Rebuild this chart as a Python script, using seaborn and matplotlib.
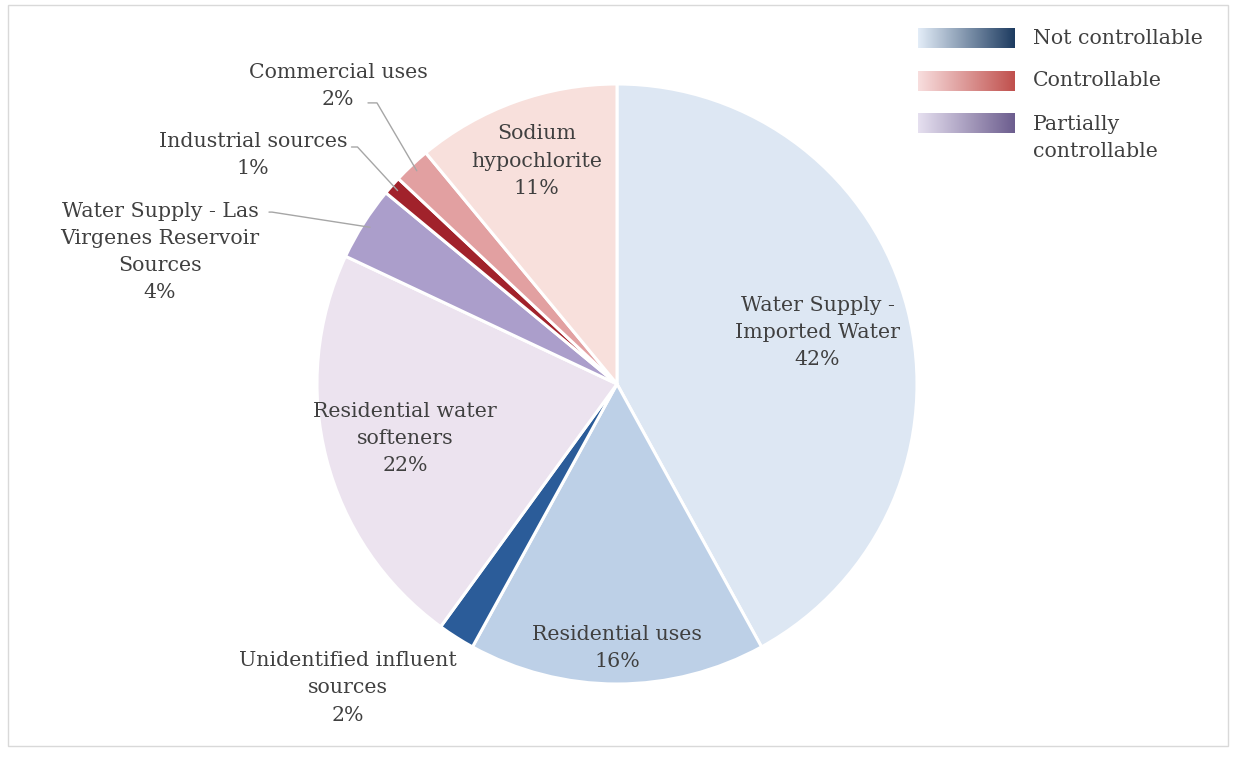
import numpy as np
import matplotlib
matplotlib.use("Agg")
import matplotlib.pyplot as plt
import seaborn as sns
from matplotlib.colors import LinearSegmentedColormap
from matplotlib.patches import Rectangle

# ================= data =================
labels = [
    "Water Supply -\nImported Water",
    "Residential uses",
    "Unidentified influent\nsources",
    "Residential water\nsofteners",
    "Water Supply - Las\nVirgenes Reservoir\nSources",
    "Industrial sources",
    "Commercial uses",
    "Sodium\nhypochlorite",
]
shares = [42, 16, 2, 22, 4, 1, 2, 11]
slice_colors = ["#dde7f3", "#bdd0e7", "#2b5c99", "#ece3ef",
                "#ab9ecb", "#a1222b", "#e2a0a1", "#f8e0dc"]

legend_names = ["Not controllable", "Controllable", "Partially\ncontrollable"]
legend_grad = [("#e3edf8", "#1d3b60"), ("#f8dede", "#c0504d"), ("#e6e0f0", "#6c5d8e")]

# label layout (pie radius = 1); None -> inside at given radius
inside_r = [0.69, 0.88, None, 0.73, None, None, None, 0.79]
outside_pos = {2: (-0.897, -1.013), 4: (-1.523, 0.44),
               5: (-1.213, 0.763), 6: (-0.93, 0.993)}
leader_start = {4: [(-1.15, 0.573), (-1.16, 0.573)],
                5: [(-0.865, 0.79), (-0.885, 0.79)],
                6: [(-0.80, 0.937), (-0.83, 0.937)]}
# =========================================

sns.set_theme(style="white")
plt.rcParams['font.family'] = ['DejaVu Serif']
TXT = "#404040"
FS = 14.8
LS = 1.55

fig = plt.figure(figsize=(12.33, 7.62), dpi=100)
ax = fig.add_axes([0, 0, 1, 1])

wedges, _ = ax.pie(shares, colors=slice_colors, startangle=90, counterclock=False,
                   radius=1.0, wedgeprops=dict(edgecolor="white", linewidth=2.2))

for i, w in enumerate(wedges):
    mid = np.deg2rad((w.theta1 + w.theta2) / 2)
    txt = f"{labels[i]}\n{shares[i]}%"
    if inside_r[i] is not None:
        r = inside_r[i]
        ax.text(r * np.cos(mid), r * np.sin(mid), txt, ha="center", va="center",
                fontsize=FS, color=TXT, linespacing=LS)
    else:
        x, y = outside_pos[i]
        ax.text(x, y, txt, ha="center", va="center", fontsize=FS, color=TXT,
                linespacing=LS)
        if i in leader_start:
            (x0, y0), (x1, y1) = leader_start[i]
            ex, ey = 0.975 * np.cos(mid), 0.975 * np.sin(mid)
            ax.plot([x1, x0, ex], [y1, y0, ey], color="#a6a6a6", lw=1.0)

ax.set_xlim(-617 / 300, (1233 - 617) / 300)
ax.set_ylim(-(762 - 384) / 300, 384 / 300)
ax.set_aspect("auto")
ax.axis("off")

# outer frame
fig.patches.append(Rectangle((8 / 1233, 1 - 746 / 762), 1220 / 1233, 741 / 762,
                             transform=fig.transFigure, fill=False,
                             edgecolor="#d9d9d9", linewidth=1.0))

# gradient legend
grad = np.linspace(0, 1, 256).reshape(1, -1)
bar_tops = [28, 71, 113]
text_y = [38, 81, 138]
for k, name in enumerate(legend_names):
    lax = fig.add_axes([918 / 1233, 1 - (bar_tops[k] + 20) / 762, 97 / 1233, 20 / 762])
    cmap = LinearSegmentedColormap.from_list(f"g{k}", list(legend_grad[k]))
    lax.imshow(grad, aspect="auto", cmap=cmap)
    lax.axis("off")
    fig.text(1033 / 1233, 1 - text_y[k] / 762, name, ha="left", va="center",
             fontsize=FS, color=TXT, linespacing=LS)

fig.savefig("out.png", dpi=100)
